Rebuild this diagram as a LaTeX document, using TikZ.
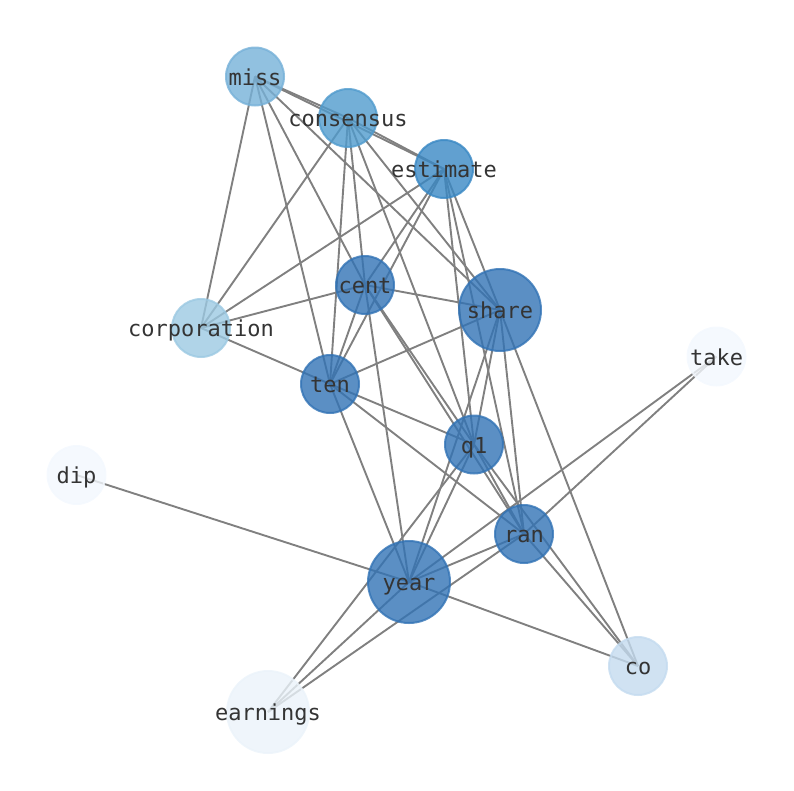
\documentclass[tikz,border=0pt]{standalone}
\usepackage{fontspec}
\setmonofont{DejaVu Sans Mono}
\definecolor{cdark}{RGB}{50,115,181}
\definecolor{cest}{RGB}{57,136,196}
\definecolor{ccons}{RGB}{80,155,205}
\definecolor{cmiss}{RGB}{118,177,216}
\definecolor{ccorp}{RGB}{156,201,226}
\definecolor{cco}{RGB}{196,219,239}
\definecolor{cearn}{RGB}{235,243,250}
\definecolor{clight}{RGB}{243,248,254}
\definecolor{edgegray}{RGB}{128,128,128}
\definecolor{labelgray}{RGB}{52,52,52}
\begin{document}
\begin{tikzpicture}[x=1pt,y=-1pt,
  edge/.style={draw=edgegray,line width=1.9pt},
  vert/.style={circle,inner sep=0pt,line width=2pt,fill opacity=0.8,draw opacity=0.8},
  smallv/.style={vert,minimum size=58pt},
  bigv/.style={vert,minimum size=82pt},
  lbl/.style={font=\ttfamily\fontsize{22}{26}\selectfont,text=labelgray,inner sep=0pt,text height=20pt,text depth=3pt}]
\useasboundingbox (0,0) rectangle (794,790);
\coordinate (miss) at (255,76.5);
\coordinate (consensus) at (348,118);
\coordinate (estimate) at (444,169);
\coordinate (cent) at (365,285);
\coordinate (share) at (500,310);
\coordinate (corporation) at (201,328);
\coordinate (ten) at (330,384);
\coordinate (take) at (716.5,356.5);
\coordinate (q1) at (474,444.5);
\coordinate (dip) at (76.5,475);
\coordinate (ran) at (524,534);
\coordinate (year) at (409,582);
\coordinate (co) at (638,666);
\coordinate (earnings) at (268,712);
% edges
\foreach \a/\b in {miss/consensus,miss/estimate,consensus/estimate,miss/corporation,miss/ten,miss/cent,miss/share,
  consensus/corporation,consensus/ten,consensus/cent,consensus/q1,consensus/share,
  estimate/corporation,estimate/cent,estimate/ten,estimate/q1,estimate/ran,estimate/share,
  corporation/cent,corporation/ten,
  cent/ten,cent/share,cent/q1,cent/ran,cent/year,
  ten/share,ten/q1,ten/ran,ten/year,
  share/q1,share/year,share/ran,share/co,
  q1/year,q1/earnings,q1/ran,q1/co,
  ran/year,ran/take,ran/earnings,ran/co,
  year/earnings,year/take,year/dip,year/co}
  \draw[edge] (\a) -- (\b);
% nodes
\node[smallv,fill=cmiss,draw=cmiss] (nmiss) at (miss) {};
\node[smallv,fill=ccons,draw=ccons] (nconsensus) at (consensus) {};
\node[smallv,fill=cest,draw=cest] (nestimate) at (estimate) {};
\node[smallv,fill=cdark,draw=cdark] (ncent) at (cent) {};
\node[bigv,fill=cdark,draw=cdark] (nshare) at (share) {};
\node[smallv,fill=ccorp,draw=ccorp] (ncorporation) at (corporation) {};
\node[smallv,fill=cdark,draw=cdark] (nten) at (ten) {};
\node[smallv,fill=clight,draw=clight] (ntake) at (take) {};
\node[smallv,fill=cdark,draw=cdark] (nq1) at (q1) {};
\node[smallv,fill=clight,draw=clight] (ndip) at (dip) {};
\node[smallv,fill=cdark,draw=cdark] (nran) at (ran) {};
\node[bigv,fill=cdark,draw=cdark] (nyear) at (year) {};
\node[smallv,fill=cco,draw=cco] (nco) at (co) {};
\node[bigv,fill=cearn,draw=cearn] (nearnings) at (earnings) {};
% labels
\node[lbl] (lmiss) at (miss) {miss};
\node[lbl] (lconsensus) at (consensus) {consensus};
\node[lbl] (lestimate) at (estimate) {estimate};
\node[lbl] (lcent) at (cent) {cent};
\node[lbl] (lshare) at (share) {share};
\node[lbl] (lcorporation) at (corporation) {corporation};
\node[lbl] (lten) at (ten) {ten};
\node[lbl] (ltake) at (take) {take};
\node[lbl] (lq1) at (q1) {q1};
\node[lbl] (ldip) at (dip) {dip};
\node[lbl] (lran) at (ran) {ran};
\node[lbl] (lyear) at (year) {year};
\node[lbl] (lco) at (co) {co};
\node[lbl] (learnings) at (earnings) {earnings};
\end{tikzpicture}
\end{document}
